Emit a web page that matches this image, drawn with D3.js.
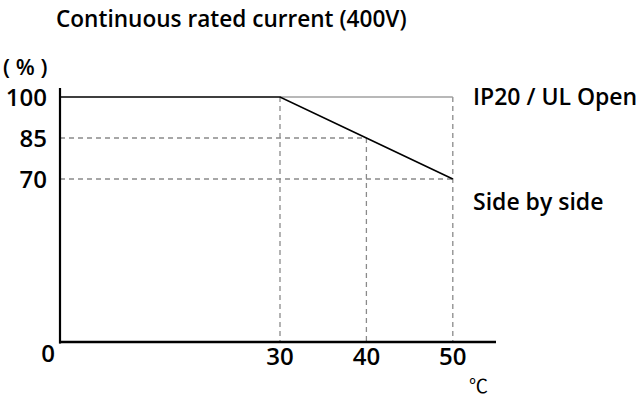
<!DOCTYPE html>
<html><head><meta charset="utf-8">
<script src="https://cdn.jsdelivr.net/npm/d3@7"></script>
<style>html,body{margin:0;padding:0;background:#fff;}</style>
</head><body>
<svg id="c" width="640" height="400"></svg>
<script>
const title = "Continuous rated current (400V)";
const xTicks = [0, 30, 40, 50];
const yTicks = [0, 70, 85, 100];
const temps = [0, 30, 40, 50];
const sideBySide = [100, 100, 85, 70];
const openTemps = [30, 50];
const openValues = [100, 100];
const seriesLabels = ["IP20 / UL Open", "Side by side"];
const yUnit = "( % )";
const xUnit = "℃";

const svg = d3.select("#c");
const font = "'Open Sans', sans-serif";
const x = d3.scaleLinear().domain([0, 30, 55]).range([60, 280, 496]);
const y = d3.scaleLinear().domain([0, 70, 100]).range([342, 179, 97]);

svg.append("text").attr("x", 56).attr("y", 27).text(title)
  .attr("font-family", font).attr("font-weight", 600).attr("font-size", 22.6).attr("fill", "#000");

// dashed reference lines
const dash = "5,4";
const g = svg.append("g").attr("stroke", "#8a8a8a").attr("stroke-width", 1.3).attr("stroke-dasharray", dash);
[[30,100],[40,85],[50,100]].forEach(([t,v]) => {
  g.append("line").attr("x1", x(t)).attr("x2", x(t)).attr("y1", y(v)).attr("y2", y(0));
});
[[85,40],[70,50]].forEach(([v,t]) => {
  g.append("line").attr("x1", x(0)).attr("x2", x(t)).attr("y1", y(v)).attr("y2", y(v));
});

// open line (gray)
const line = d3.line().x(d => x(d[0])).y(d => y(d[1]));
svg.append("path").attr("d", line(openTemps.map((t,i)=>[t, openValues[i]])))
  .attr("fill", "none").attr("stroke", "#a0a0a0").attr("stroke-width", 1.6);
// side by side line
svg.append("path").attr("d", line(temps.map((t,i)=>[t, sideBySide[i]])))
  .attr("fill", "none").attr("stroke", "#000").attr("stroke-width", 1.6);

// axes
svg.append("line").attr("x1", x(0)).attr("x2", x(0)).attr("y1", y(103.3)).attr("y2", y(0) + 1.5)
  .attr("stroke", "#000").attr("stroke-width", 2.2);
svg.append("line").attr("x1", x(0) - 1).attr("x2", x(55)).attr("y1", y(0)).attr("y2", y(0))
  .attr("stroke", "#000").attr("stroke-width", 2.6);

const lab = { "font-family": font, "font-weight": 600, "font-size": 23, "fill": "#000" };
function applyLab(sel){ Object.entries(lab).forEach(([k,v]) => sel.attr(k, v)); return sel; }

// x tick labels
xTicks.forEach(t => {
  const tx = applyLab(svg.append("text")).text(t).attr("font-size", 24);
  if (t === 0) tx.attr("x", x(0) - 5).attr("y", 362).attr("text-anchor", "end");
  else tx.attr("x", x(t)).attr("y", 365).attr("text-anchor", "middle");
});
// y tick labels
yTicks.filter(v => v > 0).forEach(v => {
  applyLab(svg.append("text")).text(v).attr("font-size", 24).attr("x", 47).attr("y", y(v) + 8.5).attr("text-anchor", "end");
});
applyLab(svg.append("text")).text(yUnit).attr("x", 3).attr("y", 75).attr("font-size", 22);
applyLab(svg.append("text")).text(xUnit).attr("x", 469).attr("y", 393)
  .attr("font-family", "'Noto Sans CJK JP', sans-serif").attr("font-weight", 400).attr("font-size", 19);

applyLab(svg.append("text")).text(seriesLabels[0]).attr("x", 473).attr("y", 105);
applyLab(svg.append("text")).text(seriesLabels[1]).attr("x", 473).attr("y", 210);
</script>
</body></html>
